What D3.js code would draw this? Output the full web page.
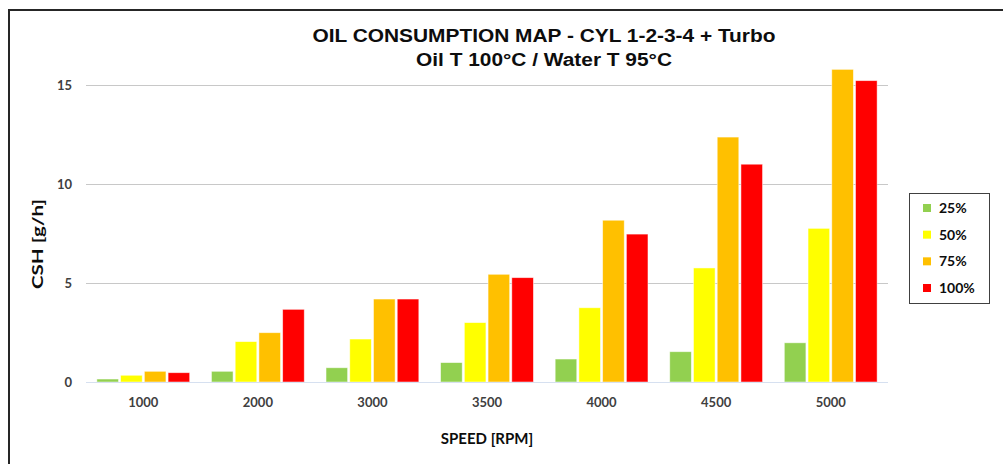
<!DOCTYPE html>
<html><head><meta charset="utf-8">
<script src="https://cdn.jsdelivr.net/npm/d3@7"></script>
<style>body{margin:0;background:#fff;}svg{display:block;}</style>
</head><body>
<svg id="c" width="1003" height="464"></svg>
<script>
const categories = ["1000","2000","3000","3500","4000","4500","5000"];
const seriesNames = ["25%","50%","75%","100%"];
const s25  = [0.15, 0.54, 0.72, 0.98, 1.16, 1.53, 1.98];
const s50  = [0.34, 2.04, 2.17, 3.00, 3.75, 5.76, 7.76];
const s75  = [0.54, 2.49, 4.19, 5.44, 8.17, 12.37, 15.79];
const s100 = [0.47, 3.67, 4.19, 5.27, 7.47, 11.00, 15.22];
const yTicks = [0, 5, 10, 15];
const colors = ["#92d050", "#ffff00", "#ffc000", "#ff0000"];
const seriesValues = [s25, s50, s75, s100];

const svg = d3.select("#c");
const font = "'Liberation Sans', Arial, sans-serif";
const cal = "Lato, 'Open Sans', sans-serif";

// outer border
svg.append("rect").attr("x", 9).attr("y", 10).attr("width", 1010).attr("height", 470)
  .attr("fill", "#fff").attr("stroke", "#262626").attr("stroke-width", 2);

const left = 86, right = 888, y0 = 382, y15 = 85;
const y = d3.scaleLinear().domain([0, 15]).range([y0, y15]);
const x0 = d3.scaleBand().domain(categories).range([left, right]).paddingInner(0.19).paddingOuter(0.095);
const x1 = d3.scaleBand().domain(seriesNames).range([0, x0.bandwidth()]).paddingInner(0.09);

// gridlines
svg.append("g").selectAll("line").data(yTicks.filter(d => d > 0)).join("line")
  .attr("x1", left).attr("x2", right).attr("y1", d => Math.round(y(d)) + 0.5).attr("y2", d => Math.round(y(d)) + 0.5)
  .attr("stroke", "#c8c8c8").attr("stroke-width", 1);

// y axis labels
const yAxis = d3.axisLeft(y).tickValues(yTicks).tickSize(0).tickPadding(14);
const ga = svg.append("g").attr("transform", `translate(${left},0)`).call(yAxis);
ga.select(".domain").remove();
ga.selectAll("text").attr("font-family", cal).attr("font-size", 13).attr("font-weight", "bold").attr("fill", "#404040");

// bars
const groups = svg.append("g").selectAll("g").data(categories).join("g")
  .attr("transform", c => `translate(${x0(c)},0)`);
groups.selectAll("rect").data((c, i) => seriesNames.map((s, j) => ({s, v: seriesValues[j][i], j})))
  .join("rect")
  .attr("x", d => x1(d.s)).attr("width", x1.bandwidth())
  .attr("y", d => y(d.v)).attr("height", d => y0 - y(d.v))
  .attr("fill", d => colors[d.j])
  .attr("stroke", "rgba(255,255,255,0.6)").attr("stroke-width", 0.8);

// baseline
svg.append("line").attr("x1", left).attr("x2", right).attr("y1", y0 + 0.5).attr("y2", y0 + 0.5)
  .attr("stroke", "#d6e0f0").attr("stroke-width", 1);

// x axis labels
const xAxis = d3.axisBottom(x0).tickSize(0).tickPadding(16);
const gx = svg.append("g").attr("transform", `translate(0,${y0})`).call(xAxis);
gx.select(".domain").remove();
gx.selectAll("text").attr("font-family", cal).attr("font-size", 13).attr("font-weight", "bold").attr("fill", "#404040");

// titles
svg.append("text").attr("x", 544).attr("y", 41.5).attr("text-anchor", "middle")
  .attr("font-family", font).attr("font-size", 18).attr("font-weight", "bold").attr("fill", "#0d0d0d")
  .attr("textLength", 463).attr("lengthAdjust", "spacingAndGlyphs")
  .text("OIL CONSUMPTION MAP - CYL 1-2-3-4 + Turbo");
svg.append("text").attr("x", 544).attr("y", 66).attr("text-anchor", "middle")
  .attr("font-family", font).attr("font-size", 18).attr("font-weight", "bold").attr("fill", "#0d0d0d")
  .attr("textLength", 256).attr("lengthAdjust", "spacingAndGlyphs")
  .text("Oil T 100°C / Water T 95°C");

svg.append("text").attr("transform", "translate(43,244) rotate(-90)").attr("text-anchor", "middle")
  .attr("font-family", cal).attr("font-size", 16).attr("font-weight", "bold").attr("fill", "#0d0d0d")
  .attr("textLength", 90).attr("lengthAdjust", "spacingAndGlyphs")
  .text("CSH [g/h]");
svg.append("text").attr("x", 487).attr("y", 444).attr("text-anchor", "middle")
  .attr("font-family", cal).attr("font-size", 15).attr("font-weight", "bold").attr("fill", "#0d0d0d")
  .text("SPEED [RPM]");

// legend
const lg = svg.append("g");
lg.append("rect").attr("x", 909.5).attr("y", 193.5).attr("width", 80).attr("height", 110)
  .attr("fill", "#fff").attr("stroke", "#404040").attr("stroke-width", 1);
const ly = d3.scalePoint().domain(seriesNames).range([208, 288]);
lg.selectAll("rect.k").data(seriesNames).join("rect").attr("class", "k")
  .attr("x", 923).attr("y", d => ly(d) - 4).attr("width", 8).attr("height", 8)
  .attr("fill", (d, i) => colors[i]);
lg.selectAll("text").data(seriesNames).join("text")
  .attr("x", 939).attr("y", d => ly(d) + 5)
  .attr("font-family", cal).attr("font-size", 14).attr("font-weight", "bold").attr("fill", "#0d0d0d")
  .text(d => d);
</script>
</body></html>
